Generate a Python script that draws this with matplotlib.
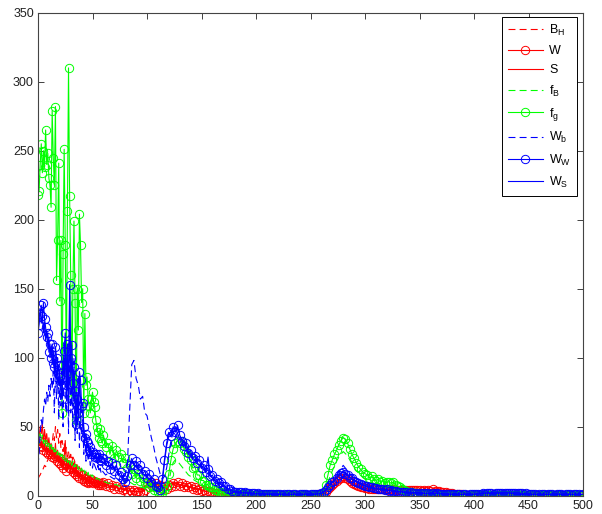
import matplotlib
matplotlib.use("Agg")
import matplotlib.pyplot as plt

plt.rcParams['font.family'] = ['Liberation Sans', 'DejaVu Sans']
plt.rcParams['lines.scale_dashes'] = False

# x grids: dense at the start, coarser later
x_early = list(range(0, 60))
x_mid = list(range(60, 182, 2))
x_tail_lines = list(range(184, 501, 4))     # line-only series
x_tail_marks = list(range(182, 501, 2))     # circle-marker series

# ---------------- B_H (red dashed) ----------------
bh_early = [12, 14, 15, 17, 18, 20, 22, 21, 24, 26,
            28, 30, 33, 38, 45, 40, 50, 42, 48, 38,
            45, 35, 40, 32, 38, 30, 35, 28, 32, 26,
            30, 24, 28, 22, 25, 20, 23, 19, 21, 17,
            19, 16, 18, 15, 16, 14, 15, 13, 14, 12,
            13, 11, 12, 11, 10, 11, 10, 9, 10, 9]
bh_mid = [9, 8, 8, 7, 7, 6, 6, 6, 5, 5,
          5, 4, 4, 3, 3, 3, 3, 3, 4, 6,
          9, 11, 10, 9, 10, 8, 8, 7, 6, 7,
          8, 9, 10, 9, 9, 8, 8, 8, 7, 7,
          6, 6, 6, 5, 5, 4, 4, 4, 3, 3,
          2.5, 2, 2, 1.5, 1.5, 1.2, 1, 1, 0.8, 0.7,
          0.6]
bh_tail = [0.6, 0.5, 0.5, 0.5, 0.4,
           0.4, 0.4, 0.4, 0.4, 0.4,
           0.4, 0.4, 0.4, 0.4, 0.4,
           0.4, 0.4, 0.5, 0.5, 0.7,
           2, 5, 8, 11, 13,
           11, 8, 6.5, 5.5, 5,
           4.5, 4.5, 4.5, 4.5, 4.5,
           4.5, 4.5, 4.5, 4.5, 4.5,
           4.5, 4.5, 4.5, 4.5, 4.5,
           4.5, 4, 3.5, 3, 2.5,
           2, 1.5, 1.2, 1, 1,
           1, 1, 1, 1, 1,
           1, 1, 1, 1, 1,
           1, 1, 1, 1, 1,
           1, 1, 1, 1, 1,
           1, 1, 1, 1, 1]

# ---------------- W (red circles) ----------------
w_early = [38, 40, 36, 40, 35, 33, 37, 32, 35, 30,
           33, 30, 32, 28, 30, 27, 29, 25, 28, 24,
           27, 22, 25, 20, 24, 22, 18, 23, 20, 25,
           19, 21, 17, 20, 16, 18, 14, 17, 13, 16,
           12, 15, 11, 13, 10, 12, 9, 11, 10, 12,
           9, 11, 10, 9, 10, 8, 9, 8, 9, 8]
w_mid = [10, 7, 9, 6, 8, 5, 7, 5, 6, 4,
         5, 3, 4, 3, 4, 2.5, 3.5, 2.5, 3, 4,
         9, 6, 10, 7, 9, 6, 8, 5, 7, 5,
         8, 6, 9, 7, 10, 7, 9, 6, 8, 6,
         7, 5, 6, 4, 5, 3.5, 4, 3, 3.5, 2.5,
         2.5, 2, 2, 1.5, 1.5, 1.2, 1, 1, 0.8, 0.8,
         0.6]
w_tail = [0.8, 0.6, 0.7, 0.5, 0.6, 0.4, 0.5, 0.4, 0.5, 0.4,
          0.4, 0.3, 0.5, 0.4, 0.3, 0.4, 0.5, 0.3, 0.4, 0.4,
          0.3, 0.4, 0.5, 0.3, 0.4, 0.4, 0.3, 0.5, 0.4, 0.3,
          0.4, 0.5, 0.4, 0.5, 0.4, 0.5, 0.6, 0.7, 0.9, 1.2,
          2, 3, 4.5, 6, 7.5, 9, 10.5, 12, 13, 14,
          13, 12, 10.5, 9.5, 8.5, 7.5, 7, 6.5, 6, 5.5,
          5.5, 5, 5.2, 4.8, 5, 4.6, 4.8, 4.5, 4.7, 4.4,
          4.6, 4.3, 4.5, 4.2, 4.4, 4.1, 4.3, 4.0, 4.2, 4.0,
          4.2, 3.9, 4.1, 3.8, 4.0, 3.7, 3.9, 3.6, 3.8, 3.5,
          4.5, 3.5, 3.3, 3.2, 3.0, 2.8, 2.5, 2.2, 2.0, 1.8,
          1.5, 1.2, 1.0, 0.9, 0.8, 0.8, 0.7, 0.7, 0.7, 0.6,
          0.6, 0.7, 0.6, 0.7, 0.6, 0.7, 0.6, 0.7, 0.6, 0.7,
          0.6, 0.7, 0.6, 0.7, 0.6, 0.7, 0.6, 0.7, 0.6, 0.6,
          0.6, 0.6, 0.5, 0.6, 0.5, 0.6, 0.5, 0.6, 0.5, 0.6,
          0.5, 0.6, 0.5, 0.6, 0.5, 0.6, 0.5, 0.6, 0.5, 0.6,
          0.5, 0.6, 0.5, 0.6, 0.5, 0.6, 0.5, 0.6, 0.5, 0.6]

# ---------------- S (red solid) ----------------
s_early = [35, 42, 50, 45, 52, 38, 48, 40, 45, 36,
           42, 33, 38, 30, 35, 28, 38, 26, 33, 25,
           30, 24, 28, 22, 27, 40, 22, 26, 20, 24,
           18, 22, 17, 20, 15, 19, 14, 17, 13, 15,
           12, 14, 11, 13, 10, 12, 10, 11, 9, 10,
           9, 10, 8, 9, 8, 9, 7, 8, 7, 8]
s_mid = [7, 8, 7, 7, 6, 7, 6, 5, 5, 5,
         4, 4, 4, 3, 3, 3, 3, 3, 3, 5,
         9, 11, 10, 9, 9, 8, 8, 7, 6, 7,
         8, 9, 10, 9, 8, 8, 8, 7, 7, 6,
         6, 6, 5, 5, 5, 4, 4, 3, 3, 3,
         2.5, 2, 2, 1.5, 1.2, 1.2, 1, 1, 0.8, 0.7,
         0.6]
s_tail = [0.6, 0.5, 0.5, 0.4, 0.4,
          0.4, 0.4, 0.4, 0.4, 0.4,
          0.4, 0.4, 0.4, 0.4, 0.4,
          0.4, 0.4, 0.5, 0.5, 0.6,
          2, 4.5, 7.5, 10.5, 13,
          11, 8.5, 6.5, 5.5, 5,
          5, 4.5, 4.5, 4.5, 4.5,
          4.5, 4.5, 4, 4, 4,
          4, 4.5, 4, 4, 4,
          5, 4, 3.5, 3, 2.5,
          2, 1.5, 1.2, 1, 1,
          1, 1, 1, 1, 1,
          1, 1, 1, 1, 1,
          1, 1, 1, 1, 1,
          1, 1, 1, 1, 1,
          1, 1, 1, 1, 1]

# ---------------- f_B (green dashed) ----------------
fb_early = [42, 38, 45, 40, 44, 38, 42, 36, 40, 35,
            38, 33, 37, 32, 35, 30, 34, 29, 32, 28,
            31, 27, 30, 26, 29, 25, 28, 24, 27, 23,
            26, 22, 25, 21, 23, 20, 22, 19, 21, 18,
            20, 17, 19, 16, 18, 15, 17, 14, 16, 14,
            15, 13, 14, 12, 13, 12, 12, 11, 11, 10]
fb_mid = [10, 10, 9, 9, 8, 8, 8, 7, 7, 7,
          12, 11, 10, 9, 8, 8, 7, 6, 6, 5,
          5, 4, 4, 3, 3, 2, 2, 2, 2, 4,
          10, 18, 24, 26, 25, 23, 21, 19, 17, 15,
          14, 12, 11, 10, 9, 8, 7, 6, 5, 5,
          4, 3, 3, 2, 2, 1.5, 1.5, 1, 1, 1,
          1]
fb_tail = [0.8, 0.8, 0.7, 0.6, 0.5,
           0.5, 0.5, 0.4, 0.4, 0.4,
           0.4, 0.4, 0.4, 0.4, 0.4,
           0.4, 0.4, 0.5, 0.5, 1,
           6, 14, 22, 28, 32,
           29, 23, 18, 15, 12,
           10, 9, 8, 7, 7,
           6, 4, 3, 2.5, 2,
           1.5, 1.2, 1, 1, 0.8,
           0.8, 0.7, 0.6, 0.6, 0.5,
           0.5, 0.5, 0.5, 0.5, 0.5,
           0.5, 0.5, 0.5, 0.5, 0.5,
           0.5, 0.5, 0.5, 0.5, 0.5,
           0.5, 0.5, 0.5, 0.5, 0.5,
           0.5, 0.5, 0.5, 0.5, 0.5,
           0.5, 0.5, 0.5, 0.5, 0.5]

# ---------------- f_g (green circles) ----------------
fg_early = [218, 221, 240, 255, 234, 250, 238, 265, 240, 248,
            230, 225, 209, 279, 245, 225, 282, 156, 185, 241,
            141, 185, 60, 175, 251, 182, 90, 206, 310, 217,
            160, 70, 150, 199, 140, 55, 150, 120, 204, 182,
            140, 150, 60, 132, 80, 86, 70, 65, 60, 70,
            75, 68, 64, 55, 50, 46, 42, 48, 40, 38]
fg_mid = [44, 35, 38, 30, 36, 27, 33, 28, 30, 24,
          27, 20, 22, 16, 19, 13, 16, 11, 13, 9,
          10, 6, 8, 4, 6, 3, 3, 2, 4, 7,
          16, 26, 34, 38, 40, 38, 40, 34, 32, 28,
          26, 20, 21, 15, 15, 11, 11, 8, 8, 6,
          6, 4, 4, 3, 3, 2, 2, 1.5, 1.2, 1,
          1]
fg_tail = [1.2, 1.0, 0.9, 1.1, 0.8, 0.7, 0.9, 0.6, 0.7, 0.5,
           0.6, 0.5, 0.6, 0.4, 0.5, 0.4, 0.5, 0.4, 0.5, 0.4,
           0.4, 0.5, 0.4, 0.4, 0.5, 0.4, 0.4, 0.5, 0.4, 0.4,
           0.5, 0.4, 0.5, 0.4, 0.5, 0.6, 0.5, 0.7, 0.8, 1.0,
           3, 8, 15, 22, 26, 30, 33, 37, 40, 42,
           41, 38, 34, 30, 27, 24, 21, 19, 17, 16,
           15, 13, 14, 12, 11, 12, 10, 11, 9, 10,
           10, 9, 10, 8, 7, 6, 5, 4, 3.5, 3,
           2.5, 2.2, 2, 1.8, 1.6, 1.5, 1.3, 1.2, 1.1, 1.0,
           1.0, 0.9, 0.9, 0.8, 0.8, 0.7, 0.7, 0.7, 0.6, 0.6,
           0.6, 0.5, 0.6, 0.5, 0.6, 0.5, 0.6, 0.5, 0.6, 0.5,
           0.6, 0.5, 0.6, 0.5, 0.6, 0.5, 0.6, 0.5, 0.6, 0.5,
           0.6, 0.5, 0.6, 0.5, 0.6, 0.5, 0.6, 0.5, 0.6, 0.5,
           0.6, 0.5, 0.6, 0.5, 0.6, 0.5, 0.6, 0.5, 0.6, 0.5,
           0.6, 0.5, 0.6, 0.5, 0.6, 0.5, 0.6, 0.5, 0.6, 0.5,
           0.6, 0.5, 0.6, 0.5, 0.6, 0.5, 0.6, 0.5, 0.6, 0.5]

# ---------------- W_b (blue dashed) ----------------
wb_early = [22, 30, 45, 55, 50, 62, 70, 65, 75, 68,
            80, 72, 85, 78, 90, 60, 95, 70, 100, 55,
            85, 65, 90, 50, 110, 70, 60, 95, 45, 120,
            60, 80, 50, 100, 40, 75, 45, 85, 35, 65,
            40, 55, 30, 45, 25, 38, 25, 30, 22, 28,
            20, 25, 22, 20, 18, 22, 17, 20, 16, 18]
wb_mid = [17, 15, 16, 14, 13, 12, 14, 11, 10, 12,
          15, 22, 60, 95, 98, 85, 80, 70, 72, 60,
          58, 50, 42, 36, 28, 22, 16, 12, 14, 20,
          30, 40, 46, 50, 48, 44, 40, 42, 35, 33,
          30, 28, 30, 26, 24, 22, 20, 19, 17, 15,
          13, 11, 10, 8, 7, 6, 5, 4, 3, 3,
          2.5]
wb_tail = [2.5, 2.2, 2, 1.8, 1.5,
           1.4, 1.3, 1.2, 1.2, 1.1,
           1.1, 1, 1, 1, 1,
           1, 1, 1.1, 1.3, 1.8,
           4, 8, 12, 17, 22,
           18, 14, 11, 9, 7.5,
           6.5, 5.5, 5, 4.5, 4,
           3.8, 3.3, 3, 2.6, 2.2,
           2, 2, 1.8, 1.6, 1.5,
           3.5, 1.5, 1.3, 1.2, 1.1,
           1, 1, 1, 1, 1,
           1.5, 1.8, 2, 2, 2,
           2, 2, 2, 1.5, 1,
           1, 1, 1, 1, 1,
           1, 1, 1, 1, 1,
           1, 1, 1, 1, 1]

# ---------------- W_w (blue circles) ----------------
ww_early = [118, 124, 132, 138, 130, 140, 128, 122, 115, 118,
            104, 110, 100, 110, 96, 93, 108, 100, 88, 95,
            86, 80, 70, 95, 105, 118, 80, 110, 65, 153,
            100, 109, 82, 93, 76, 52, 70, 60, 90, 84,
            65, 67, 50, 42, 45, 40, 38, 33, 35, 30,
            32, 30, 28, 30, 27, 28, 30, 26, 25, 27]
ww_mid = [27, 22, 25, 19, 24, 18, 22, 15, 17, 12,
          10, 14, 22, 27, 22, 25, 19, 22, 16, 18,
          13, 16, 10, 12, 7, 6, 4, 12, 26, 38,
          46, 43, 50, 46, 51, 44, 40, 36, 38, 31,
          33, 27, 29, 24, 26, 20, 22, 17, 19, 14,
          15, 11, 12, 9, 10, 7, 7, 5, 5, 3.5,
          3]
ww_tail = [3, 2.5, 2.8, 2.2, 2.4, 1.8, 2.1, 1.6, 1.9, 1.5,
           1.7, 1.3, 1.5, 1.2, 1.4, 1.0, 1.3, 0.9, 1.2, 1.0,
           1.2, 0.8, 1.1, 0.9, 1.2, 0.8, 1.0, 1.1, 0.8, 1.0,
           1.1, 0.9, 1.2, 0.8, 1.0, 1.2, 0.9, 1.3, 1.5, 1.8,
           2.5, 4, 6, 8, 10, 11, 13, 15, 16.5, 17,
           16, 15, 13, 12.5, 11, 10, 9.5, 8.5, 8, 7,
           7, 6, 6.5, 5.5, 5.5, 5, 4.5, 5, 4, 4.5,
           3.5, 4, 3.2, 3.5, 3, 2.6, 3, 2.4, 2.6, 2.2,
           2.5, 2, 2.3, 1.8, 2.1, 1.7, 2, 1.6, 1.8, 1.5,
           1.7, 1.4, 1.6, 1.3, 1.5, 1.2, 1.4, 1.1, 1.3, 1.0,
           1.2, 0.9, 1.1, 0.8, 1.0, 1.1, 0.8, 1.0, 0.9, 1.1,
           1.2, 1.5, 1.3, 1.8, 1.4, 2.0, 1.6, 1.9, 1.5, 2.1,
           1.7, 2.2, 1.8, 2.3, 1.9, 2.0, 1.7, 2.2, 1.8, 2.0,
           1.6, 1.9, 1.5, 1.7, 1.2, 1.0, 0.9, 1.1, 0.8, 1.0,
           0.9, 1.1, 0.8, 1.0, 0.9, 1.1, 0.8, 1.0, 0.9, 1.0,
           0.8, 1.0, 0.9, 1.1, 0.8, 1.0, 0.9, 1.0, 0.8, 1.0]

# ---------------- W_s (blue solid) ----------------
ws_early = [120, 128, 135, 125, 132, 118, 126, 112, 120, 108,
            115, 100, 108, 95, 104, 88, 98, 85, 92, 80,
            90, 75, 70, 98, 85, 110, 70, 95, 60, 145,
            85, 100, 70, 88, 65, 48, 75, 55, 85, 70,
            60, 62, 45, 40, 42, 36, 35, 31, 33, 29,
            30, 28, 27, 28, 26, 27, 28, 25, 24, 25]
ws_mid = [24, 23, 21, 22, 19, 20, 17, 16, 14, 11,
          9, 12, 18, 25, 23, 21, 19, 18, 16, 15,
          14, 12, 11, 8, 6, 5, 4, 9, 24, 36,
          43, 47, 49, 49, 45, 41, 37, 40, 33, 30,
          29, 27, 26, 24, 22, 21, 19, 18, 28, 14,
          13, 11, 10, 9, 8, 7, 6, 5, 4, 3.5,
          3]
ws_tail = [2.4, 2, 1.7, 1.5, 1.3,
           1.2, 1.1, 1, 1, 1,
           1, 1, 1, 1, 1,
           1, 1, 1, 1.2, 1.6,
           4, 8, 11, 15, 18,
           15, 12, 10, 8, 7,
           6, 5, 5, 4, 4,
           3.5, 3, 3, 2.5, 2,
           2, 2, 1.8, 1.5, 1.5,
           4, 1.5, 1.2, 1.2, 1,
           1, 1, 1, 1, 1,
           1.5, 2, 2, 2, 2,
           2, 2, 2, 1.5, 1,
           1, 1, 1, 1, 1,
           1, 1, 1, 1, 1,
           1, 1, 1, 1, 1]

labels = [r'$\mathregular{B_H}$', 'W', 'S', r'$\mathregular{f_B}$',
          r'$\mathregular{f_g}$', r'$\mathregular{W_b}$',
          r'$\mathregular{W_W}$', r'$\mathregular{W_S}$']
x_ticks = [0, 50, 100, 150, 200, 250, 300, 350, 400, 450, 500]
y_ticks = [0, 50, 100, 150, 200, 250, 300, 350]

x_lines = x_early + x_mid + x_tail_lines
x_marks = x_early + x_mid + x_tail_marks
series = [
    (x_lines, bh_early + bh_mid + bh_tail, '#ff0000', (0, (5, 3)), None),
    (x_marks, w_early + w_mid + w_tail, '#ff0000', '-', 'o'),
    (x_lines, s_early + s_mid + s_tail, '#ff0000', '-', None),
    (x_lines, fb_early + fb_mid + fb_tail, '#00ff00', (0, (5, 3)), None),
    (x_marks, fg_early + fg_mid + fg_tail, '#00ff00', '-', 'o'),
    (x_lines, wb_early + wb_mid + wb_tail, '#0000ff', (0, (5, 3)), None),
    (x_marks, ww_early + ww_mid + ww_tail, '#0000ff', '-', 'o'),
    (x_lines, ws_early + ws_mid + ws_tail, '#0000ff', '-', None),
]

fig = plt.figure(figsize=(6.02, 5.14), dpi=100)
ax = fig.add_axes([38 / 602, 1 - 495.7 / 514, 545 / 602, (495.7 - 12.7) / 514])

handles = []
for (xs, y, c, ls, mk), lab in zip(series, labels):
    h, = ax.plot(xs, y, color=c, linestyle=ls, linewidth=0.8,
                 marker=mk if mk else 'None', markersize=6,
                 markerfacecolor='none', markeredgecolor=c,
                 markeredgewidth=0.7, label=lab)
    handles.append(h)

ax.set_xlim(0, 500)
ax.set_ylim(0, 350)
ax.set_xticks(x_ticks)
ax.set_yticks(y_ticks)
ax.tick_params(direction='in', length=4, width=0.6, top=True, right=True,
               labelsize=9, colors='#222222', pad=3)
for sp in ax.spines.values():
    sp.set_linewidth(0.8)
    sp.set_color('#444444')

leg = ax.legend(handles=handles, loc='upper right',
                bbox_to_anchor=(577 / 602, 1 - 17 / 514),
                bbox_transform=fig.transFigure, borderaxespad=0,
                fontsize=9, handlelength=2.8, handletextpad=0.5,
                labelspacing=0.58, borderpad=0.45, fancybox=False,
                framealpha=1, edgecolor='black')
leg.get_frame().set_linewidth(0.7)

fig.savefig('out.png', dpi=100)
